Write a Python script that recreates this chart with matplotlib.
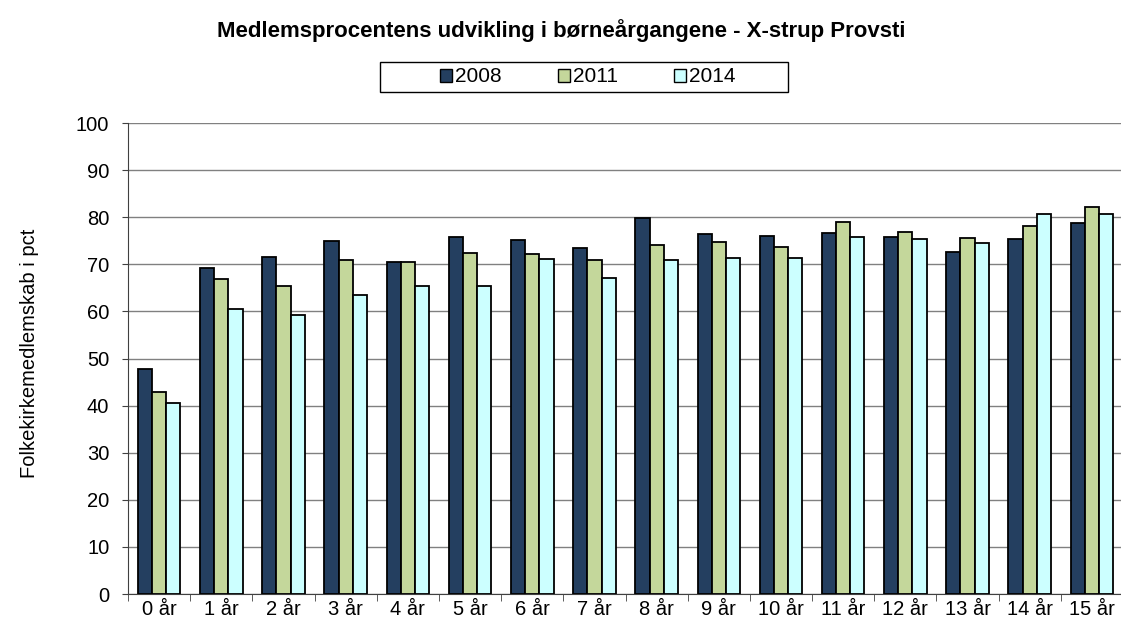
import numpy as np
import matplotlib
matplotlib.use("Agg")
import matplotlib.pyplot as plt

plt.rcParams["font.family"] = ["Liberation Sans", "DejaVu Sans"]

# data
categories = ["0 år", "1 år", "2 år", "3 år", "4 år", "5 år", "6 år", "7 år",
              "8 år", "9 år", "10 år", "11 år", "12 år", "13 år", "14 år", "15 år"]
years = ["2008", "2011", "2014"]
v2008 = [47.8, 69.3, 71.5, 74.9, 70.5, 75.9, 75.1, 73.4, 79.8, 76.4, 76.1, 76.7, 75.8, 72.7, 75.3, 78.7]
v2011 = [42.8, 66.8, 65.3, 71.0, 70.4, 72.5, 72.2, 71.0, 74.2, 74.8, 73.6, 79.0, 76.8, 75.5, 78.1, 82.1]
v2014 = [40.5, 60.6, 59.2, 63.4, 65.5, 65.5, 71.2, 67.0, 71.0, 71.4, 71.4, 75.7, 75.3, 74.6, 80.6, 80.7]
colors = ["#243F60", "#C4D79B", "#CCFFFF"]

fig = plt.figure(figsize=(11.21, 6.26), dpi=100)
# plot area runs slightly past the right edge, as in the reference
ax = fig.add_axes([0.1142, 0.0511, 0.8876, 0.7524])

x = np.arange(len(categories))
w = 0.228
for i, (vals, lab) in enumerate(zip([v2008, v2011, v2014], years)):
    ax.bar(x + (i - 1) * w, vals, width=w, color=colors[i], edgecolor="black",
           linewidth=1.3, label=lab, zorder=3)

ax.set_xlim(-0.5, len(categories) - 0.5)
ax.set_ylim(0, 100)
ax.set_yticks(range(0, 101, 10))
ax.yaxis.grid(True, color="#808080", linewidth=1.0, zorder=0)
ax.set_xticks(x)
ax.set_xticklabels(categories, fontsize=14.5)
ax.set_xticks(np.arange(-0.5, len(categories)), minor=True)
ax.tick_params(axis="x", which="major", length=0, pad=4)
ax.tick_params(axis="x", which="minor", length=5, color="#404040", direction="out")
ax.tick_params(axis="y", labelsize=14.5, length=4.5, pad=9, color="#404040", direction="out")

for s in ["top", "right"]:
    ax.spines[s].set_visible(False)
ax.spines["left"].set_color("#404040")
ax.spines["bottom"].set_color("#404040")

ax.set_ylabel("Folkekirkemedlemskab i pct", fontsize=14.5, va="center")
ax.yaxis.set_label_coords(-0.099, 0.51)

fig.text(0.501, 0.952, "Medlemsprocentens udvikling i børneårgangene - X-strup Provsti",
         ha="center", va="center", fontsize=16, fontweight="bold")

# legend without its own frame; the box is drawn separately to get the wide padding
leg = fig.legend(loc="center", bbox_to_anchor=(0.5245, 0.877), ncol=3, fontsize=15,
                 frameon=False, handlelength=0.57, handleheight=0.57,
                 handletextpad=0.15, columnspacing=2.7, borderpad=0, borderaxespad=0)
for h in leg.legend_handles:
    h.set_linewidth(1.0)
fig.patches.append(plt.Rectangle((0.339, 0.853), 0.364, 0.048, transform=fig.transFigure,
                                 fill=False, edgecolor="black", linewidth=1.0))

fig.savefig("out.png", dpi=100)
